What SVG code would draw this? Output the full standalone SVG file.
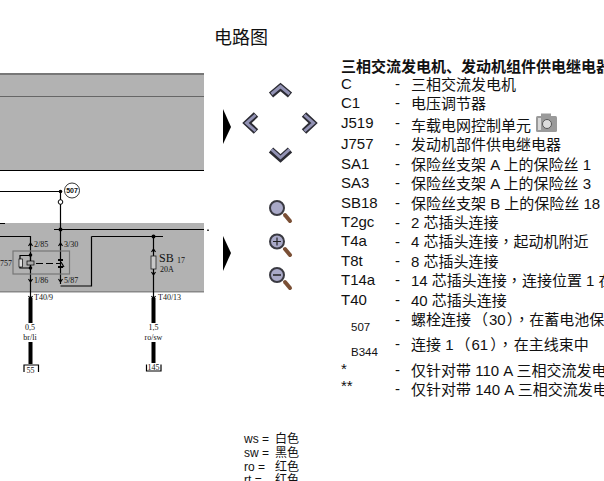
<svg xmlns="http://www.w3.org/2000/svg" width="604" height="481" viewBox="0 0 604 481">
<style>
text{font-family:"Liberation Sans","Noto Sans CJK SC",sans-serif;fill:#111}
.l{font-size:15px}
.c{font-size:11.5px}
.p{font-family:"Noto Sans CJK TC",sans-serif}
.d{font-family:"Liberation Serif","Noto Sans CJK SC",serif;font-size:8px;fill:#111}
.w{stroke:#000;stroke-width:1.200;fill:none}
.t{stroke:#000;stroke-width:4;fill:none}
.chb{fill:none;stroke:#2b2b33;stroke-width:6.500;stroke-linejoin:miter}
.chf{fill:none;stroke:#9292b4;stroke-width:3;stroke-linejoin:miter}
.gl{fill:#a9a9c8;stroke:#3a3a42;stroke-width:2}
.hd{stroke:#7a4f35;stroke-width:4;stroke-linecap:round}
</style>
<text x="214" y="44" style="font-size:18px">电路图</text>
<g id="bands">
<rect x="0" y="73" width="204" height="97" fill="#b2b2b2"/>
<rect x="0" y="73" width="204" height="2" fill="#777"/>
<rect x="0" y="96" width="204" height="1" fill="#666"/>
<rect x="0" y="170" width="204" height="1" fill="#000"/>
<rect x="0" y="223" width="204" height="69" fill="#b2b2b2"/>
<rect x="0" y="223" width="5" height="1" fill="#000"/>
<rect x="0" y="291" width="204" height="1.500" fill="#888"/>
</g>
<g id="connectors">
<path class="w" d="M0 191.500H60.500V284M54 229.500H204M0 236.500H30.500V300M91.500 236.500H163M91.500 236.500V286H60.500M153.500 236.500V300"/>
<path class="t" d="M30.500 298V323M30.500 342V364M153.500 298V323M153.500 342V363"/>
<path class="w" d="M30.500 255.500H20V268H30.500M30.500 255V268"/>
<path class="w" stroke-dasharray="7 3" d="M36 263.500H60"/>
<path class="w" d="M61 262L64 267"/>
<g fill="#000">
<circle cx="60.500" cy="191.500" r="1.800"/><circle cx="60.500" cy="229.500" r="2"/><circle cx="153.500" cy="236.500" r="2"/>
<circle cx="30.500" cy="255" r="1.800"/><circle cx="30.500" cy="268" r="1.800"/>
<rect x="58" y="259" width="5" height="2"/><rect x="58" y="266" width="5" height="2"/>
<rect x="207" y="229.500" width="2" height="1.500" fill="#444"/>
</g>
<path class="w" stroke-width="1" d="M28.500 246L30.500 243L32.500 246M28.500 279L30.500 282L32.500 279M58.500 246L60.500 243L62.500 246M58.500 279L60.500 282L62.500 279M151.500 252L153.500 249L155.500 252M151.500 272L153.500 275L155.500 272M28.500 296L30.500 299L32.500 296M151.500 296L153.500 299L155.500 296"/>
</g>
<g id="node-507"><circle cx="72" cy="190.500" r="7.500" fill="#fff" stroke="#000" stroke-width=".8"/><text x="72" y="193" text-anchor="middle" style="font-weight:bold;font-size:7px">507</text><circle cx="60.500" cy="202" r="2.300" fill="#fff" stroke="#000"/></g>
<g id="node-J757">
<rect x="13" y="251" width="56.500" height="23" fill="none" stroke="#777" stroke-width="1.200"/>
<rect x="19" y="259" width="3.500" height="8" fill="#ddd" stroke="#000" stroke-width=".7"/>
<rect x="27" y="261" width="7" height="4" fill="#aaa" stroke="#000" stroke-width=".7"/>
<text x="0" y="266" class="d">757</text>
<text x="34" y="247" class="d">2/85</text><text x="64" y="247" class="d">3/30</text>
<text x="34" y="283" class="d">1/86</text><text x="64" y="283" class="d">5/87</text>
</g>
<g id="node-SB">
<rect x="151" y="256" width="5" height="13" fill="#c8c8c8" stroke="#222" stroke-width=".8"/>
<text x="159" y="262" style="font-family:'Liberation Serif';font-size:12px">SB</text><text x="177" y="263" class="d">17</text><text x="160" y="271.500" class="d">20A</text>
</g>
<g id="wires-labels">
<text x="34" y="300" class="d">T40/9</text><text x="158" y="300" class="d">T40/13</text>
<text x="30" y="330" text-anchor="middle" class="d">0,5</text><text x="30" y="339.500" text-anchor="middle" class="d">br/li</text>
<text x="153.500" y="330" text-anchor="middle" class="d">1,5</text><text x="153.500" y="339.500" text-anchor="middle" class="d">ro/sw</text>
<path class="w" stroke-width=".8" d="M24 372V365H38.500V372M146.500 364.500V371H161V364.500"/>
<text x="30.500" y="372.500" text-anchor="middle" class="d">55</text><text x="153.500" y="370" text-anchor="middle" class="d">145</text>
</g>
<g id="pointers"><path d="M223 109L231 127L223 144Z"/><path d="M223 236L231 253L223 271Z"/></g>
<g id="nav-up"><path class="chb" d="M271 95L280.500 87L290 95"/><path class="chf" d="M271.500 94L280.500 86.500L289.500 94"/></g>
<g id="nav-left"><path class="chb" d="M256 114.500L247 123L256 131.500"/><path class="chf" d="M255.500 115L246.500 123L255.500 131"/></g>
<g id="nav-right"><path class="chb" d="M304 114.500L313 123L304 131.500"/><path class="chf" d="M304.500 115L313.500 123L304.500 131"/></g>
<g id="nav-down"><path class="chb" d="M271 150L280.500 158.500L290 150"/><path class="chf" d="M271.500 149.500L280.500 157.500L289.500 149.500"/></g>
<g id="zoom-fit"><path class="hd" d="M285 215L290 221"/><circle class="gl" cx="277" cy="208" r="7"/></g>
<g id="zoom-in"><path class="hd" d="M285 249L290 255"/><circle class="gl" cx="277" cy="241.500" r="7"/><path d="M273 241.500H281M277 237.500V245.500" stroke="#222" stroke-width="1.200"/></g>
<g id="zoom-out"><path class="hd" d="M285 282L290 288"/><circle class="gl" cx="277" cy="275" r="7"/><path d="M273 275H281" stroke="#222" stroke-width="1.500"/></g>
<g id="legend">
<text x="341" y="72" style="font-size:15px;font-weight:bold">三相交流发电机、发动机组件供电继电器</text>
<g class="l">
<text x="341" y="89">C</text><text x="395" y="89">-</text><text x="411" y="90">三相交流发电机</text>
<text x="341" y="108">C1</text><text x="395" y="108">-</text><text x="411" y="109">电压调节器</text>
<text x="341" y="128">J519</text><text x="395" y="128">-</text><text x="411" y="131">车载电网控制单元</text>
<text x="341" y="149">J757</text><text x="395" y="149">-</text><text x="411" y="150">发动机部件供电继电器</text>
<text x="341" y="169">SA1</text><text x="395" y="169">-</text><text x="411" y="170">保险丝支架 A 上的保险丝 1</text>
<text x="341" y="188">SA3</text><text x="395" y="188">-</text><text x="411" y="189">保险丝支架 A 上的保险丝 3</text>
<text x="341" y="208">SB18</text><text x="395" y="208">-</text><text x="411" y="209">保险丝支架 B 上的保险丝 18</text>
<text x="341" y="227">T2gc</text><text x="395" y="228">-</text><text x="411" y="228">2 芯插头连接</text>
<text x="341" y="246">T4a</text><text x="395" y="247">-</text><text x="411" y="247">4 芯插头连接<tspan class="p">，</tspan>起动机附近</text>
<text x="341" y="266">T8t</text><text x="395" y="266">-</text><text x="411" y="267">8 芯插头连接</text>
<text x="341" y="285">T14a</text><text x="395" y="285">-</text><text x="411" y="286">14 芯插头连接<tspan class="p">，</tspan>连接位置 1 在</text>
<text x="341" y="305">T40</text><text x="395" y="305">-</text><text x="411" y="306">40 芯插头连接</text>
<text x="395" y="325">-</text><text x="411" y="325">螺栓连接<tspan class="p" dx="2">（</tspan><tspan dx="1">30</tspan><tspan class="p" dx="1">），</tspan>在蓄电池保</text>
<text x="395" y="349">-</text><text x="411" y="350">连接 1<tspan class="p" dx="2">（</tspan><tspan dx="1">61</tspan><tspan class="p" dx="2">），</tspan><tspan dx="1">在主线束中</tspan></text>
<text x="341" y="374">*</text><text x="395" y="375">-</text><text x="411" y="376">仅针对带 110 A 三相交流发电</text>
<text x="341" y="391">**</text><text x="395" y="394">-</text><text x="411" y="395">仅针对带 140 A 三相交流发电</text>
</g>
<text x="351" y="331" class="c">507</text><text x="351" y="356" class="c">B344</text>
</g>
<g id="camera-icon"><rect x="536" y="116" width="21" height="16" rx="1.500" fill="#9a9a9a"/><rect x="541" y="113.500" width="10" height="4" fill="#9a9a9a"/><circle cx="547" cy="124" r="4.500" fill="#dcdcdc" stroke="#555"/><rect x="538" y="118" width="3" height="12" fill="#d8d8d8"/></g>
<g id="colour-key" style="font-size:12px">
<text x="244" y="443" style="font-size:12px">ws = <tspan x="275">白色</tspan></text>
<text x="244" y="457" style="font-size:12px">sw = <tspan x="275">黑色</tspan></text>
<text x="244" y="470.500" style="font-size:12px">ro  = <tspan x="275">红色</tspan></text>
<text x="244" y="484" style="font-size:12px">rt  = <tspan x="275">红色</tspan></text>
</g>
</svg>
